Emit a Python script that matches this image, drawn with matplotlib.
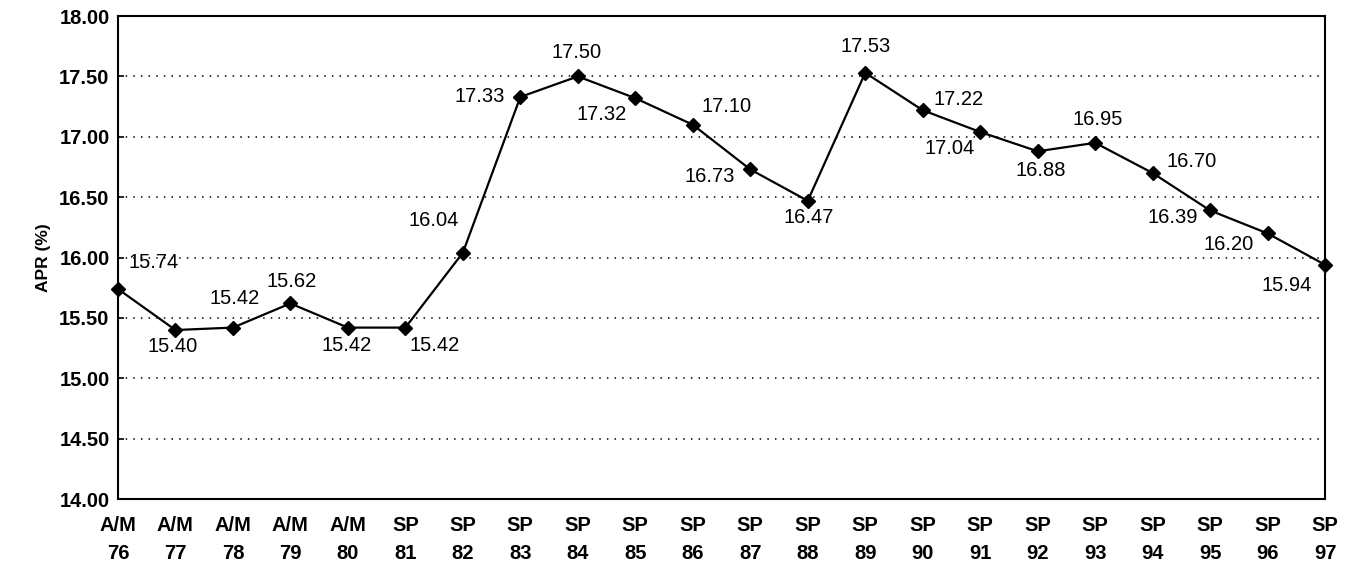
import numpy as np
import matplotlib
matplotlib.use("Agg")
import matplotlib.pyplot as plt

plt.rcParams['font.family'] = ['Liberation Sans', 'DejaVu Sans']

# tick categories and APR values
periods = ["A/M\n76", "A/M\n77", "A/M\n78", "A/M\n79", "A/M\n80", "SP\n81", "SP\n82",
           "SP\n83", "SP\n84", "SP\n85", "SP\n86", "SP\n87", "SP\n88", "SP\n89",
           "SP\n90", "SP\n91", "SP\n92", "SP\n93", "SP\n94", "SP\n95", "SP\n96", "SP\n97"]
apr = [15.74, 15.40, 15.42, 15.62, 15.42, 15.42, 16.04, 17.33, 17.50, 17.32, 17.10,
       16.73, 16.47, 17.53, 17.22, 17.04, 16.88, 16.95, 16.70, 16.39, 16.20, 15.94]

# label offsets in points (dx, dy) relative to each marker
offsets = [(26, 19), (-2, -12), (1, 21), (1, 16), (-1, -13), (21, -13), (-21, 23),
           (-29, 0), (-1, 17), (-24, -12), (24, 13), (-29, -5), (1, -12), (0, 19),
           (26, 8), (-22, -12), (2, -14), (2, 17), (28, 8), (-27, -5), (-28, -8), (-28, -15)]

fig, ax = plt.subplots(figsize=(13.48, 5.73), dpi=100)
fig.subplots_adjust(left=0.0875, right=0.983, top=0.972, bottom=0.129)

x = np.arange(len(apr))
ax.plot(x, apr, color="black", lw=1.6, marker="D", ms=7, mfc="black", mec="black",
        clip_on=False, zorder=3)

for xi, yi, (dx, dy) in zip(x, apr, offsets):
    ax.annotate(f"{yi:.2f}", (xi, yi), xytext=(dx, dy), textcoords="offset points",
                ha="center", va="center", fontsize=14.5)

ax.set_xlim(0, len(apr) - 1)
ax.set_ylim(14, 18)
ax.set_yticks(np.arange(14, 18.01, 0.5))
ax.set_yticklabels([f"{v:.2f}" for v in np.arange(14, 18.01, 0.5)], fontsize=14.5, fontweight="bold")
ax.set_xticks(x)
ax.set_xticklabels(periods, fontsize=14.5, fontweight="bold", linespacing=1.6)
ax.tick_params(axis="x", length=0, pad=12)
ax.tick_params(axis="y", length=4, direction="in", width=1.2, pad=6)
ax.set_ylabel("APR (%)", fontsize=12.5, fontweight="bold", labelpad=6)

ax.yaxis.grid(True, linestyle=(0, (1, 4)), color="black", lw=1.1)
for s in ax.spines.values():
    s.set_linewidth(1.5)

plt.savefig("out.png", dpi=100)
